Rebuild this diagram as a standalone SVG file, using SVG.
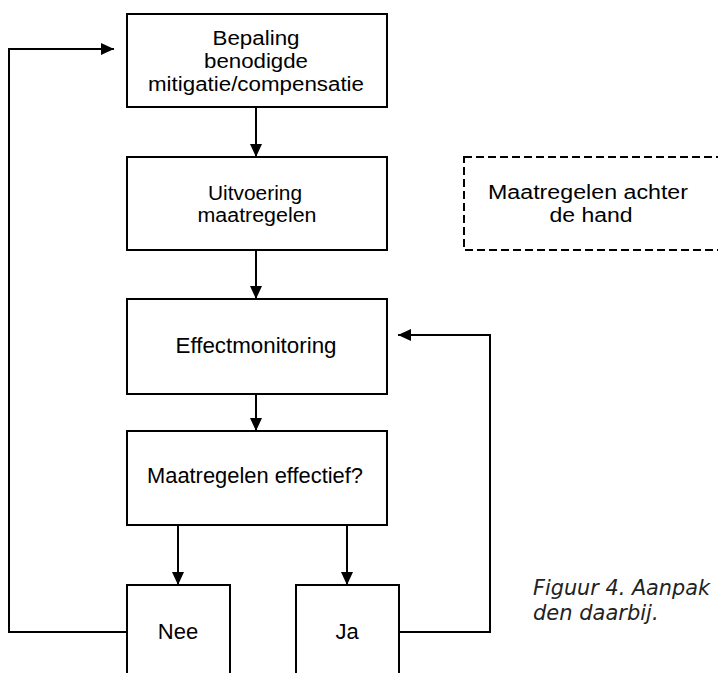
<svg xmlns="http://www.w3.org/2000/svg" width="718" height="673" viewBox="0 0 718 673">
<style>
.box{fill:#fff;stroke:#000;stroke-width:2}
.dash{fill:#fff;stroke:#000;stroke-width:2;stroke-dasharray:8 4}
.t{font-family:"Liberation Sans",Arial,sans-serif;font-size:22px;fill:#000;text-anchor:middle}
.m{font-size:20px}
.cap{font-family:"DejaVu Sans",sans-serif;font-style:italic;font-size:21px;fill:#222}
.c{fill:none;stroke:#000;stroke-width:2}
</style>
<defs>
<marker id="ah" viewBox="0 0 13 12" refX="13" refY="6" markerWidth="13" markerHeight="12" markerUnits="userSpaceOnUse" orient="auto">
<path d="M0,0 L13,6 L0,12 Z" fill="#000"/>
</marker>
</defs>
<g id="connectors">
<path class="c" d="M256,107 V157" marker-end="url(#ah)"/>
<path class="c" d="M256,250 V299" marker-end="url(#ah)"/>
<path class="c" d="M256,394 V431" marker-end="url(#ah)"/>
<path class="c" d="M178,525 V585" marker-end="url(#ah)"/>
<path class="c" d="M347,525 V585" marker-end="url(#ah)"/>
<path class="c" d="M127,632 H9 V49 H114" marker-end="url(#ah)"/>
<path class="c" d="M399,632 H490 V335 H398" marker-end="url(#ah)"/>
</g>
<g id="bepaling">
<rect class="box" x="127" y="14" width="260" height="93"/>
<text class="t m" x="256" y="45" textLength="87" lengthAdjust="spacingAndGlyphs">Bepaling</text>
<text class="t m" x="256" y="68" textLength="104" lengthAdjust="spacingAndGlyphs">benodigde</text>
<text class="t m" x="256" y="91" textLength="216" lengthAdjust="spacingAndGlyphs">mitigatie/compensatie</text>
</g>
<g id="uitvoering">
<rect class="box" x="127" y="157" width="260" height="93"/>
<text class="t m" x="255" y="200" textLength="94" lengthAdjust="spacingAndGlyphs">Uitvoering</text>
<text class="t m" x="257" y="222" textLength="119" lengthAdjust="spacingAndGlyphs">maatregelen</text>
</g>
<g id="effectmonitoring">
<rect class="box" x="127" y="299" width="260" height="95"/>
<text class="t" x="256" y="353" textLength="161" lengthAdjust="spacingAndGlyphs">Effectmonitoring</text>
</g>
<g id="effectief">
<rect class="box" x="127" y="431" width="260" height="94"/>
<text class="t" x="255" y="483" textLength="216" lengthAdjust="spacingAndGlyphs">Maatregelen effectief?</text>
</g>
<g id="nee">
<rect class="box" x="127" y="585" width="103" height="100"/>
<text class="t" x="178" y="639">Nee</text>
</g>
<g id="ja">
<rect class="box" x="296" y="585" width="103" height="100"/>
<text class="t" x="347" y="639">Ja</text>
</g>
<g id="achteraf">
<rect class="dash" x="464" y="157" width="270" height="93"/>
<text class="t m" x="588" y="199" textLength="200" lengthAdjust="spacingAndGlyphs">Maatregelen achter</text>
<text class="t m" x="591" y="222" textLength="83" lengthAdjust="spacingAndGlyphs">de hand</text>
</g>
<g id="caption">
<text class="cap" x="533" y="595" textLength="177" lengthAdjust="spacingAndGlyphs">Figuur 4. Aanpak</text>
<text class="cap" x="533" y="620">den daarbij.</text>
</g>
</svg>
